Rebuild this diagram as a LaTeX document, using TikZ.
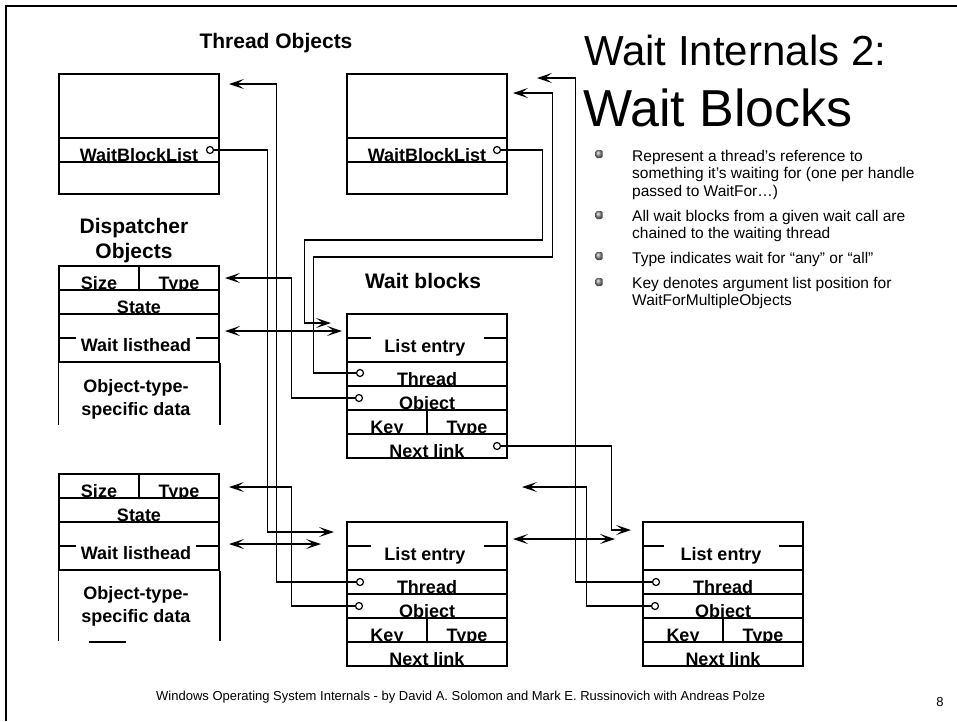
\documentclass[tikz,border=0pt]{standalone}
\usepackage{fontspec}
\setmainfont{Liberation Sans}
\usetikzlibrary{positioning, arrows.meta}

\begin{document}
\begin{tikzpicture}[
    x=1pt, y=-1pt,
    edge/.style={line width=1.5pt},
    box/.style={draw, line width=1.5pt, inner sep=0pt, minimum width=160pt, minimum height=24pt},
    lbl/.style={font=\bfseries\fontsize{18}{20}\selectfont, inner sep=0pt},
    cell/.style={box, path picture={\node[lbl, anchor=base] at ([yshift=0.5pt]path picture bounding box.south) {#1};}},
    half/.style={minimum width=80pt},
    ptr/.style={circle, draw, line width=1.2pt, fill=white, minimum size=7pt, inner sep=0pt},
    link/.style={line width=1.5pt, -{Stealth[length=15pt,width=10pt,inset=7pt]}},
    both/.style={line width=1.5pt, {Stealth[length=15pt,width=10pt,inset=7pt]}-{Stealth[length=15pt,width=10pt,inset=7pt]}},
    head/.style={font=\bfseries\fontsize{21}{23}\selectfont, inner sep=0pt, anchor=base},
    bullet/.style={rectangle, rounded corners=1.5pt, minimum width=7pt, minimum height=8pt, inner sep=0pt, shading=ball, ball color=gray!80},
    point/.style={font=\fontsize{15.5}{17.5}\selectfont, align=left, inner sep=0pt, anchor=north west}
]
  \useasboundingbox (0,0) rectangle (957,721);
  % Frame
  \coordinate (fr1) at (6,721);
  \coordinate (fr2) at (6,6);
  \coordinate (fr3) at (957,6);
  \draw[edge] (fr1) -- (fr2) -- (fr3);

  % Titles
  \node[inner sep=0pt, anchor=base west, font=\fontsize{42}{44}\selectfont] (title1) at (584,65) {Wait Internals 2:};
  \node[inner sep=0pt, anchor=base west, font=\fontsize{52}{56}\selectfont] (title2) at (583,126) {Wait Blocks};
  \node[head] (thrhead) at (276,48) {Thread Objects};
  \node[head] (disphead1) at (134,233) {Dispatcher};
  \node[head] (disphead2) at (134,258) {Objects};
  \node[head] (wbhead) at (423,288) {Wait blocks};

  % Bullets
  \node[bullet] (b1) at (599,154) {};
  \node[bullet] (b2) at (599,215) {};
  \node[bullet] (b3) at (599,256) {};
  \node[bullet] (b4) at (599,282) {};
  \node[point] (p1) at (632,150) {Represent a thread’s reference to\\something it’s waiting for (one per handle\\passed to WaitFor…)};
  \node[point] (p2) at (632,210) {All wait blocks from a given wait call are\\chained to the waiting thread};
  \node[point] (p3) at (632,252) {Type indicates wait for “any” or “all”};
  \node[point] (p4) at (632,277) {Key denotes argument list position for\\WaitForMultipleObjects};

  % Thread object 1
  \node[box, minimum height=64pt] (to1top) at (139,106) {};
  \node[cell=WaitBlockList] (to1wbl) at (139,150) {};
  \node[box, minimum height=32pt] (to1bot) at (139,178) {};
  \node[ptr] (to1ptr) at (210,150) {};
  % Thread object 2
  \node[box, minimum height=64pt] (to2top) at (427,106) {};
  \node[cell=WaitBlockList] (to2wbl) at (427,150) {};
  \node[box, minimum height=32pt] (to2bot) at (427,178) {};
  \node[ptr] (to2ptr) at (497,150) {};

  % Dispatcher object 1
  \node[cell=Size, half] (d1size) at (99,278) {};
  \node[cell=Type, half] (d1type) at (179,278) {};
  \node[cell=State] (d1state) at (139,302) {};
  \node[box, minimum height=48pt] (d1wl) at (139,338) {};
  \node[lbl, anchor=base] (d1wlt) at (136,351) {Wait listhead};
  \draw[edge] (d1wl.west) -- ++(18,0);
  \draw[edge] (d1wl.east) -- ++(-24,0);
  \draw[edge] (d1wl.south west) -- ++(0,62);
  \draw[edge] (d1wl.south east) -- ++(0,62);
  \node[lbl, anchor=base] (d1data1) at (136,392) {Object-type-};
  \node[lbl, anchor=base] (d1data2) at (136,415) {specific data};

  % Dispatcher object 2
  \node[cell=Size, half] (d2size) at (99,486) {};
  \node[cell=Type, half] (d2type) at (179,486) {};
  \node[cell=State] (d2state) at (139,510) {};
  \node[box, minimum height=48pt] (d2wl) at (139,546) {};
  \node[lbl, anchor=base] (d2wlt) at (136,559) {Wait listhead};
  \draw[edge] (d2wl.west) -- ++(18,0);
  \draw[edge] (d2wl.east) -- ++(-24,0);
  \draw[edge] (d2wl.south west) -- ++(0,70);
  \draw[edge] (d2wl.south east) -- ++(0,70);
  \node[lbl, anchor=base] (d2data1) at (136,599) {Object-type-};
  \node[lbl, anchor=base] (d2data2) at (136,622) {specific data};
  \coordinate (d2mark1) at (89,642);
  \coordinate (d2mark2) at (126,642);
  \draw[edge] (d2mark1) -- (d2mark2);

  % Wait block 1
  \node[box, minimum height=48pt] (wb1le) at (427,338) {};
  \node[lbl, anchor=base] (wb1let) at (425,352) {List entry};
  \draw[edge] (wb1le.west) -- ++(25,0);
  \draw[edge] (wb1le.east) -- ++(-24,0);
  \node[cell=Thread] (wb1thr) at (427,374) {};
  \node[cell=Object] (wb1obj) at (427,398) {};
  \node[cell=Key, half] (wb1key) at (387,422) {};
  \node[cell=Type, half] (wb1type) at (467,422) {};
  \node[cell=Next link] (wb1next) at (427,446) {};
  \node[ptr] (wb1tp) at (360,373) {};
  \node[ptr] (wb1op) at (359,398) {};
  \node[ptr] (wb1np) at (497,446) {};

  % Wait block 2
  \node[box, minimum height=48pt] (wb2le) at (427,546) {};
  \node[lbl, anchor=base] (wb2let) at (425,560) {List entry};
  \draw[edge] (wb2le.west) -- ++(25,0);
  \draw[edge] (wb2le.east) -- ++(-24,0);
  \node[cell=Thread] (wb2thr) at (427,582) {};
  \node[cell=Object] (wb2obj) at (427,606) {};
  \node[cell=Key, half] (wb2key) at (387,630) {};
  \node[cell=Type, half] (wb2type) at (467,630) {};
  \node[cell=Next link] (wb2next) at (427,654) {};
  \node[ptr] (wb2tp) at (360,582) {};
  \node[ptr] (wb2op) at (359,606) {};

  % Wait block 3
  \node[box, minimum height=48pt] (wb3le) at (723,546) {};
  \node[lbl, anchor=base] (wb3let) at (721,560) {List entry};
  \draw[edge] (wb3le.west) -- ++(22,0);
  \draw[edge] (wb3le.east) -- ++(-25,0);
  \node[cell=Thread] (wb3thr) at (723,582) {};
  \node[cell=Object] (wb3obj) at (723,606) {};
  \node[cell=Key, half] (wb3key) at (683,630) {};
  \node[cell=Type, half] (wb3type) at (763,630) {};
  \node[cell=Next link] (wb3next) at (723,654) {};
  \node[ptr] (wb3tp) at (656,582) {};
  \node[ptr] (wb3op) at (655,606) {};

  % Arrow ends
  \coordinate (to1in) at (229,84);
  \coordinate (to2in1) at (537,78);
  \coordinate (to2in2) at (513,93);
  \coordinate (d1in1) at (225,278);
  \coordinate (d1in2) at (225,331);
  \coordinate (d2in1) at (229,487);
  \coordinate (d2in2) at (229,544);
  \coordinate (wb1in1) at (331,323);
  \coordinate (wb1in2) at (342,331);
  \coordinate (wb2in1) at (334,532);
  \coordinate (wb2in2) at (321,544);
  \coordinate (wb2in3) at (513,539);
  \coordinate (wb3in1) at (631,530);
  \coordinate (wb3in2) at (615,539);
  \coordinate (wbxin) at (522,487);

  % Links
  \draw[link] (to1ptr.east) -- ++(53.5,0) |- (wb2in1);
  \draw[link] (wb2tp.west) -- ++(-79.5,0) |- (to1in);
  \draw[link] (to2ptr.east) -- ++(41.5,0) -- ++(0,90) -- ++(-238,0) |- (wb1in1);
  \draw[link] (wb1tp.west) -- ++(-42.5,0) -- ++(0,-116) -- ++(239,0) |- (to2in2);
  \draw[link] (wb1op.west) -- ++(-63.5,0) |- (d1in1);
  \draw[both] (d1in2) -- (wb1in2);
  \draw[link] (wb2op.west) -- ++(-63.5,0) |- (d2in1);
  \draw[both] (d2in2) -- (wb2in2);
  \draw[link] (wb1np.east) -- ++(110.5,0) |- (wb3in1);
  \draw[link] (wb3tp.west) -- ++(-76.5,0) |- (to2in1);
  \draw[link] (wb3op.west) -- ++(-64.5,0) |- (wbxin);
  \draw[both] (wb2in3) -- (wb3in2);

  % Footer
  \node[inner sep=0pt, anchor=base west, font=\fontsize{13}{15}\selectfont] (footer) at (156,700) {Windows Operating System Internals - by David A. Solomon and Mark E. Russinovich with Andreas Polze};
  \node[inner sep=0pt, anchor=base, font=\fontsize{13}{15}\selectfont] (pagenum) at (940,706) {8};
\end{tikzpicture}
\end{document}
